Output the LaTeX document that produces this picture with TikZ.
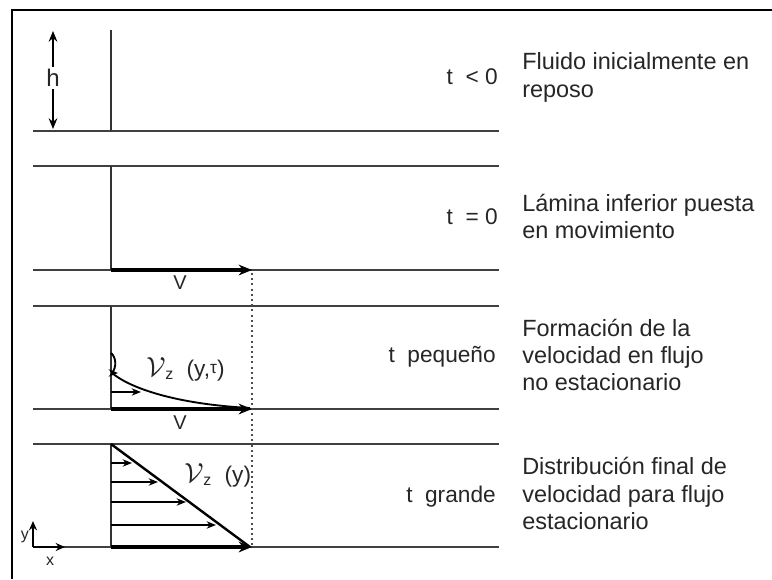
\documentclass[tikz,border=0pt]{standalone}
\usepackage{fontspec}
\setmainfont{Liberation Sans}
\usetikzlibrary{arrows.meta}
\tikzset{
  plate/.style = {line width=2.2pt, draw=black!75},% placas horizontales
  wall/.style = {line width=1.8pt, draw=black!80},% eje vertical del perfil
  velo/.style = {line width=2.6pt, draw=black, -{Stealth[length=10pt,width=8pt]}},% velocidad V de la placa
  prof/.style = {line width=1.1pt, draw=black, -{Stealth[length=7pt,width=5.5pt]}},% flechas del perfil
  tlabel/.style = {anchor=east, inner sep=0pt, text=black!85, font=\fontsize{17}{19}\selectfont},
  desc/.style = {anchor=west, align=left, inner sep=0pt, text=black!85, font=\fontsize{17.6}{20.6}\selectfont},
  vlabel/.style = {inner sep=0pt, text=black!85, font=\fontsize{15}{17}\selectfont},
  vzlabel/.style = {anchor=west, inner sep=0pt, text=black!85, font=\fontsize{17}{19}\selectfont}
}
\newcommand{\velz}{{\fontsize{22}{24}\selectfont$\mathcal{V}$}$_{\mathrm{z}}$}

\begin{document}
\begin{tikzpicture}[x=0.75pt,y=-0.75pt]
    \useasboundingbox (0,0) rectangle (772,579);
    \draw[line width=1pt] (12,579) -- (12,10) -- (772,10);
    % placas y ejes
    \foreach \y in {131,166,270,306,409,444,547}
        \draw[plate] (33,\y) -- (499,\y);
    \foreach \a/\b in {30/131,166/270,306/409,444/547}
        \draw[wall] (111,\a) -- (111,\b);
    % altura h
    \coordinate (hTop) at (53,31);
    \coordinate (hBot) at (53,129);
    \draw[line width=1.2pt, {Stealth[length=8pt,width=6.5pt]}-{Stealth[length=8pt,width=6.5pt]}] (hTop) -- (hBot);
    \node[fill=white, inner sep=2pt, text=black!85, font=\fontsize{18}{20}\selectfont] (h) at (53,78) {h};
    % t = 0
    \coordinate (a0) at (111,270);
    \coordinate (a1) at (252,270);
    \draw[velo] (a0) -- (a1);
    \node[vlabel] (V1) at (180,283) {V};
    \draw[line width=1.5pt, dash pattern=on 1.5pt off 2.4pt, black!70] (252,273) -- (252,547);
    % t pequeno
    \coordinate (b0) at (111,409);
    \coordinate (b1) at (252,409);
    \coordinate (c0) at (112,373);
    \draw[line width=1.4pt] (111,353) .. controls (116,357) and (117,367) .. (c0);
    \draw[line width=1.4pt] (c0) .. controls (130,388) and (175,404) .. (250,408);
    \draw[prof] (111,373) -- (118,373);
    \draw[prof] (111,392) -- (141,392);
    \draw[velo] (b0) -- (b1);
    \node[vlabel] (V2) at (180,423) {V};
    \node[vzlabel] (vzt) at (146,369) {\velz\ \ (y,\raisebox{2pt}{\fontsize{13}{15}\selectfont τ})};
    % t grande
    \coordinate (d0) at (111,547);
    \coordinate (d1) at (252,547);
    \draw[line width=1.8pt] (111,444) -- (250,547);
    \foreach \y/\x in {463/132,482/158,502/186,525/216}
        \draw[prof] (111,\y) -- (\x,\y);
    \draw[velo] (d0) -- (d1);
    \node[vzlabel] (vzg) at (184,475) {\velz\ \ (y)};
    % ejes x,y
    \coordinate (org) at (33,547);
    \draw[line width=1.5pt, -{Stealth[length=7pt,width=6pt]}] (org) -- (33,521);
    \draw[line width=1.5pt, -{Stealth[length=7pt,width=6pt]}] (org) -- (65,547);
    \node[inner sep=0pt, text=black!85, font=\fontsize{12}{14}\selectfont] (ly) at (25,537) {y};
    \node[inner sep=0pt, text=black!85, font=\fontsize{12}{14}\selectfont] (lx) at (50,561) {x};
    % tiempos
    \node[tlabel] (t1) at (498,77) {t \ < 0};
    \node[tlabel] (t2) at (498,217) {t \ = 0};
    \node[tlabel] (t3) at (496,357) {t \ pequeño};
    \node[tlabel] (t4) at (496,497) {t \ grande};
    % descripciones
    \node[desc] (d1t) at (522,77.5) {Fluido inicialmente en\\reposo};
    \node[desc] (d2t) at (522,216.5) {Lámina inferior puesta\\en movimiento};
    \node[desc] (d3t) at (522,355) {Formación de la\\velocidad en flujo\\no estacionario};
    \node[desc] (d4t) at (522,493.5) {Distribución final de\\velocidad para flujo\\estacionario};
\end{tikzpicture}
\end{document}
